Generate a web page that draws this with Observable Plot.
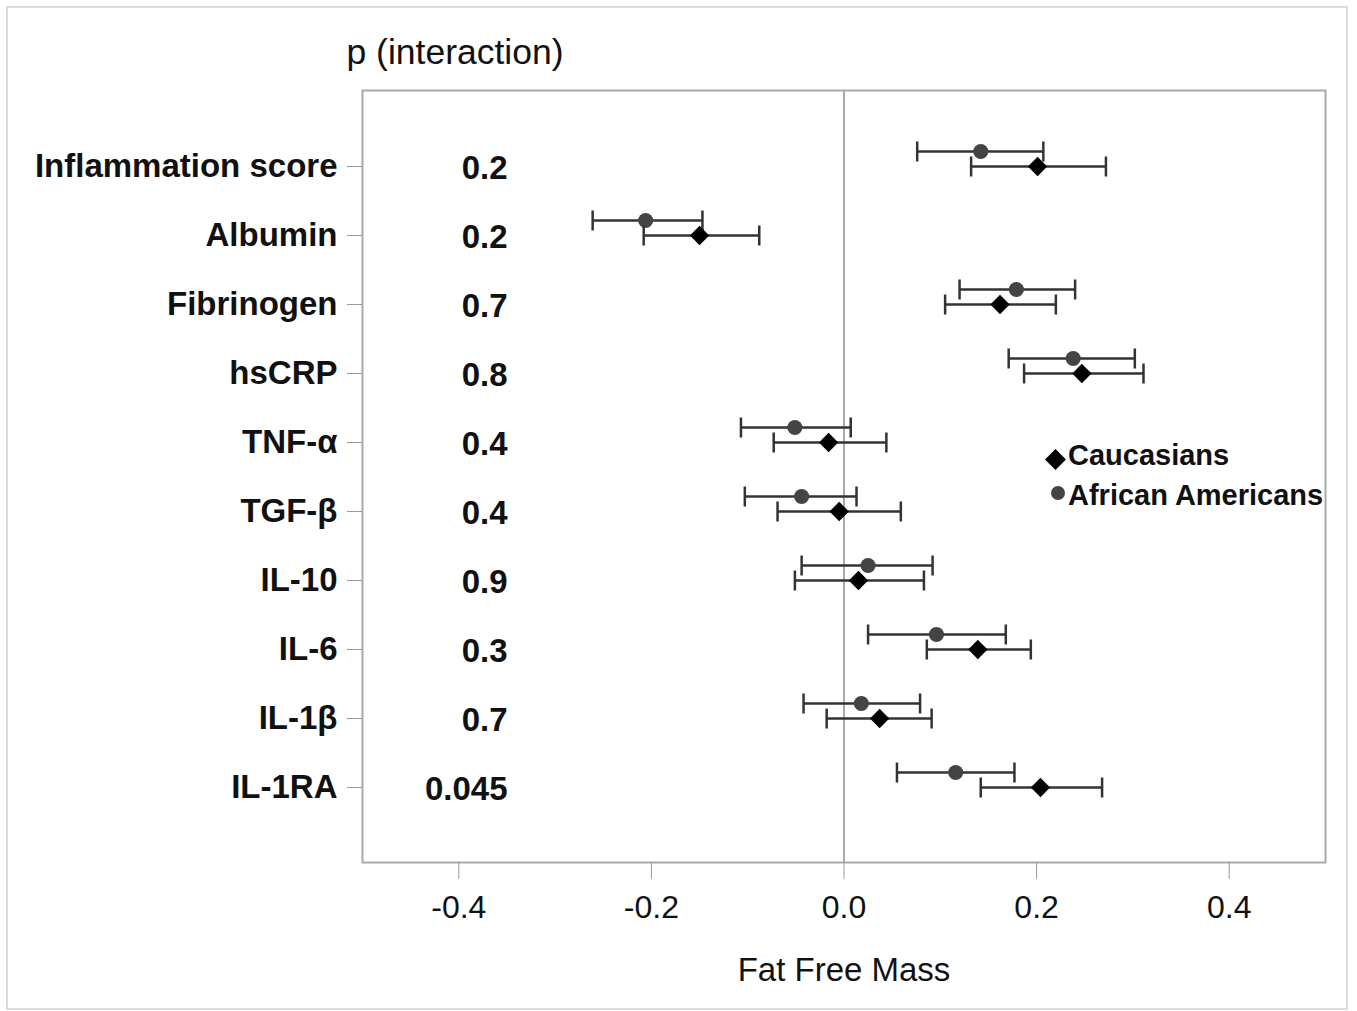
<!DOCTYPE html>
<html><head><meta charset="utf-8">
<script src="https://cdn.jsdelivr.net/npm/d3@7"></script>
<script src="https://cdn.jsdelivr.net/npm/@observablehq/plot@0.6"></script>
<style>
body{margin:0;background:#fff;}
#wrap{position:relative;width:1357px;height:1011px;font-family:"Liberation Sans",Arial,sans-serif;overflow:hidden;}
#chart{position:absolute;left:0;top:0;}
#border{position:absolute;left:6px;top:6px;width:1342px;height:1004px;border:2px solid #ddd;box-sizing:border-box;pointer-events:none}
.lg{position:absolute;font-weight:bold;font-size:29px;line-height:29px;color:#111;white-space:nowrap;}
.gl{position:absolute;}
</style></head>
<body>
<div id="wrap">
  <div id="chart"></div>
  <div id="border"></div>
  <svg class="gl" style="left:1045px;top:449px" width="21" height="21"><polygon points="10.5,0 21,10.5 10.5,21 0,10.5" fill="#000"/></svg>
  <div class="lg" style="left:1068px;top:441px">Caucasians</div>
  <svg class="gl" style="left:1050px;top:485px" width="16" height="16"><circle cx="8" cy="8" r="7" fill="#444"/></svg>
  <div class="lg" style="left:1068px;top:481px">African Americans</div>
</div>
<script>
const categories = ["Inflammation score","Albumin","Fibrinogen","hsCRP","TNF-α","TGF-β","IL-10","IL-6","IL-1β","IL-1RA"];
const pInteraction = ["0.2","0.2","0.7","0.8","0.4","0.4","0.9","0.3","0.7","0.045"];
const cauEst = [0.201,-0.150,0.162,0.247,-0.016,-0.005,0.015,0.139,0.037,0.204];
const cauLo  = [0.132,-0.208,0.105,0.187,-0.073,-0.069,-0.051,0.086,-0.018,0.142];
const cauHi  = [0.272,-0.088,0.220,0.311,0.044,0.059,0.083,0.194,0.091,0.268];
const aaEst  = [0.142,-0.206,0.179,0.238,-0.051,-0.044,0.025,0.096,0.018,0.116];
const aaLo   = [0.076,-0.261,0.120,0.171,-0.107,-0.103,-0.044,0.025,-0.042,0.055];
const aaHi   = [0.207,-0.147,0.240,0.302,0.007,0.013,0.092,0.168,0.079,0.177];
const xTicks = [-0.4,-0.2,0.0,0.2,0.4];
const xLabel = "Fat Free Mass";
const pTitle = "p (interaction)";

const rows = categories.map((c,i)=>({cat:c, p:pInteraction[i],
  cEst:cauEst[i], cLo:cauLo[i], cHi:cauHi[i],
  aEst:aaEst[i], aLo:aaLo[i], aHi:aaHi[i]}));

const vbar = {draw(ctx, size){const r=Math.sqrt(size/Math.PI); ctx.moveTo(0,-r); ctx.lineTo(0,r);}};
const barColor = "#333";
const bw = 2.5;

function group(lo, hi, est, dy, symbol, fill, r){
  return [
    Plot.ruleY(rows,{y:"cat", x1:lo, x2:hi, dy, stroke:barColor, strokeWidth:bw}),
    Plot.dot(rows,{x:lo, y:"cat", dy, symbol:vbar, r:10, stroke:barColor, strokeWidth:bw, fill:"none"}),
    Plot.dot(rows,{x:hi, y:"cat", dy, symbol:vbar, r:10, stroke:barColor, strokeWidth:bw, fill:"none"}),
    Plot.dot(rows,{x:est, y:"cat", dy, symbol, r, fill, stroke:"none"})
  ];
}

const chart = Plot.plot({
  width:1357, height:1011,
  marginTop:90, marginBottom:149, marginLeft:362, marginRight:32,
  style:{fontFamily:'"Liberation Sans", Arial, sans-serif', background:"transparent", color:"#111", overflow:"visible"},
  x:{domain:[-0.5,0.5], label:null},
  y:{type:"point", domain:categories, padding:1.08, label:null},
  marks:[
    Plot.ruleX([0],{stroke:"#aaa", strokeWidth:2}),
    Plot.frame({stroke:"#aaa", strokeWidth:2}),
    Plot.axisX({ticks:xTicks, tickFormat:d=>d.toFixed(1), tickSize:17, tickPadding:16, fontSize:32, stroke:"#999", fill:"#111", label:null}),
    Plot.axisY({tickSize:15, tickPadding:10, fontSize:33, fontWeight:"bold", stroke:"#999", fill:"#111", label:null}),
    Plot.text(rows,{y:"cat", text:"p", frameAnchor:"left", textAnchor:"end", dx:145, dy:2, fontSize:33, fontWeight:"bold", fill:"#111"}),
    ...group("aLo","aHi","aEst",-15,"circle","#444",7.6),
    ...group("cLo","cHi","cEst",0,"diamond2","#000",8.7),
    Plot.text([xLabel],{frameAnchor:"bottom", lineAnchor:"top", dy:95, fontSize:33, fill:"#111"}),
    Plot.text([pTitle],{frameAnchor:"top-left", textAnchor:"start", lineAnchor:"middle", dx:-16, dy:-38, fontSize:35.5, fill:"#111"})
  ]
});
document.getElementById("chart").appendChild(chart);
</script>
</body></html>
